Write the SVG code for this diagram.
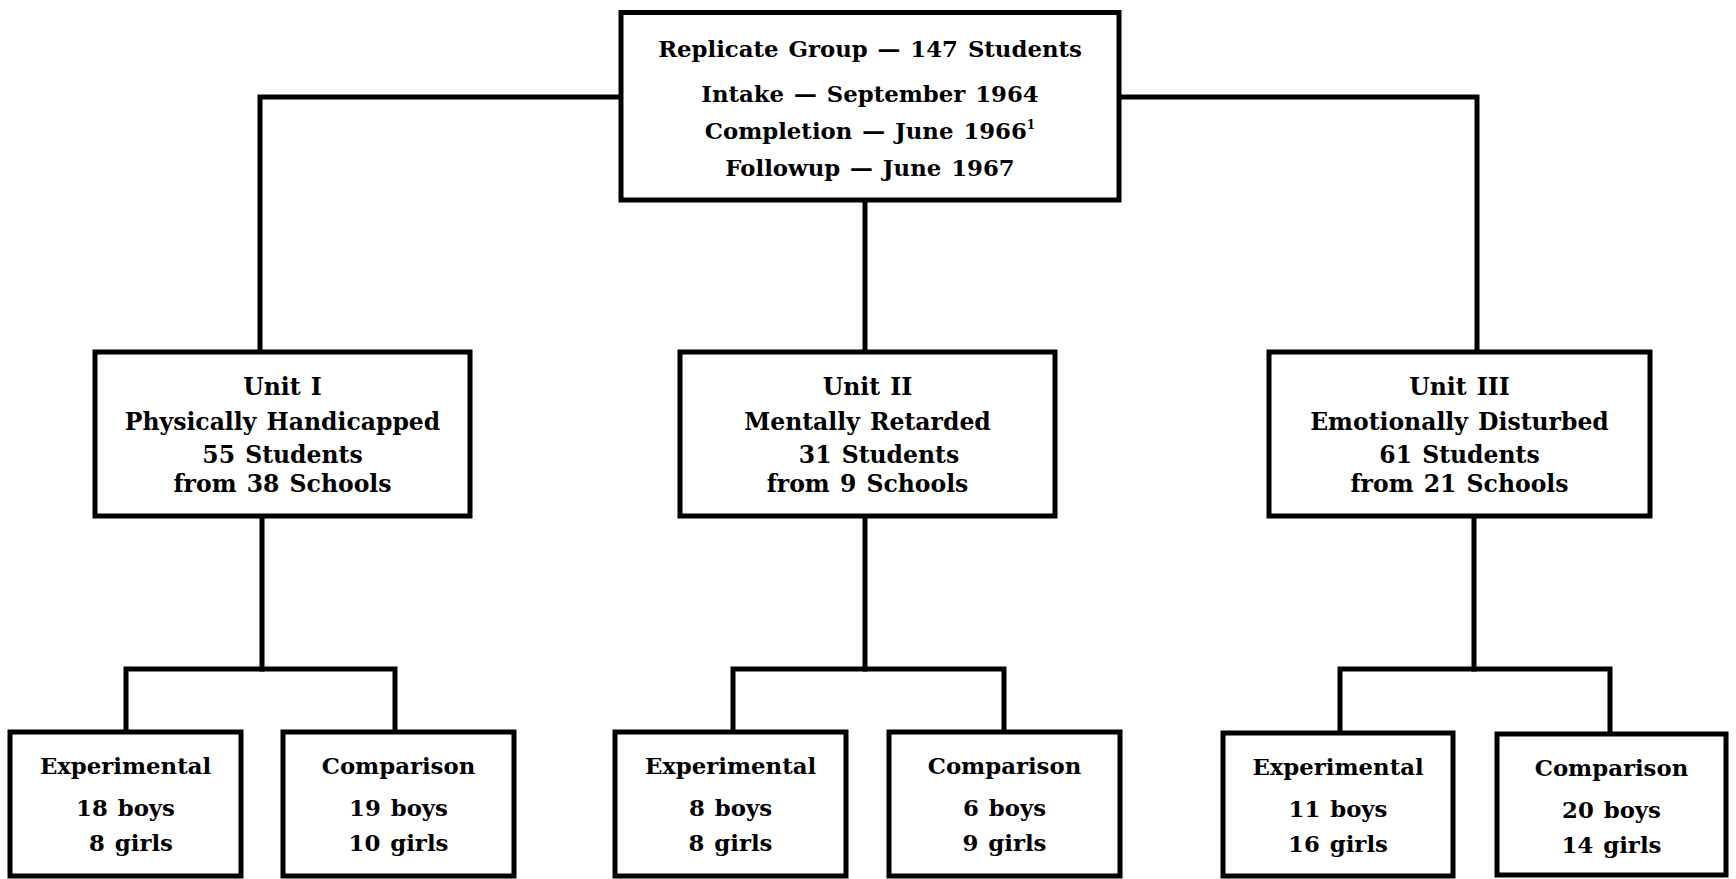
<svg xmlns="http://www.w3.org/2000/svg" width="1736" height="879" viewBox="0 0 1736 879">
<style>
.box{fill:#fff;stroke:#000;stroke-width:5}
.ln{fill:none;stroke:#000;stroke-width:5;stroke-linecap:square}
text{font-family:"DejaVu Serif","Liberation Serif",serif;font-weight:bold;fill:#000;text-anchor:middle;word-spacing:2px}
.t{font-size:23.5px}
.b{font-size:22.8px}
.tt{font-size:22.8px}
</style>
<rect width="1736" height="879" fill="#fff"/>
<g id="connectors">
<polyline class="ln" points="621,97 260,97 260,352"/>
<polyline class="ln" points="1119,97 1477,97 1477,352"/>
<line class="ln" x1="865" y1="200" x2="865" y2="352"/>
<line class="ln" x1="262" y1="516" x2="262" y2="669"/>
<polyline class="ln" points="126,732 126,669 395,669 395,732"/>
<line class="ln" x1="865" y1="516" x2="865" y2="669"/>
<polyline class="ln" points="733,732 733,669 1004,669 1004,732"/>
<line class="ln" x1="1474" y1="516" x2="1474" y2="669"/>
<polyline class="ln" points="1340,732 1340,669 1610,669 1610,732"/>
</g>
<g id="top">
<rect class="box" x="621" y="12.5" width="498" height="187.5"/>
<text class="tt" x="870" y="57">Replicate Group — 147 Students</text>
<text class="tt" x="870" y="102">Intake — September 1964</text>
<text class="tt" x="870" y="138.5">Completion — June 1966<tspan font-size="12" dy="-10">1</tspan></text>
<text class="tt" x="870" y="176">Followup — June 1967</text>
</g>
<g id="unit1">
<rect class="box" x="95" y="352" width="375" height="164"/>
<text class="t" x="282.5" y="395">Unit I</text>
<text class="t" x="282.5" y="430">Physically Handicapped</text>
<text class="t" x="282.5" y="463">55 Students</text>
<text class="t" x="282.5" y="492">from 38 Schools</text>
</g>
<g id="unit2">
<rect class="box" x="680" y="352" width="375" height="164"/>
<text class="t" x="867.5" y="395">Unit II</text>
<text class="t" x="867.5" y="430">Mentally Retarded</text>
<text class="t" x="879" y="463">31 Students</text>
<text class="t" x="867.5" y="492">from 9 Schools</text>
</g>
<g id="unit3">
<rect class="box" x="1269" y="352" width="381" height="164"/>
<text class="t" x="1459.5" y="395">Unit III</text>
<text class="t" x="1459.5" y="430">Emotionally Disturbed</text>
<text class="t" x="1459.5" y="463">61 Students</text>
<text class="t" x="1459.5" y="492">from 21 Schools</text>
</g>
<g id="exp1">
<rect class="box" x="10" y="732" width="231" height="144"/>
<text class="b" x="125.5" y="774">Experimental</text>
<text class="b" x="125.5" y="816">18 boys</text>
<text class="b" x="131" y="851">8 girls</text>
</g>
<g id="comp1">
<rect class="box" x="283" y="732" width="231" height="144"/>
<text class="b" x="398.5" y="774">Comparison</text>
<text class="b" x="398.5" y="816">19 boys</text>
<text class="b" x="398.5" y="851">10 girls</text>
</g>
<g id="exp2">
<rect class="box" x="615" y="732" width="231" height="144"/>
<text class="b" x="730.5" y="774">Experimental</text>
<text class="b" x="730.5" y="816">8 boys</text>
<text class="b" x="730.5" y="851">8 girls</text>
</g>
<g id="comp2">
<rect class="box" x="889" y="732" width="231" height="144"/>
<text class="b" x="1004.5" y="774">Comparison</text>
<text class="b" x="1004.5" y="816">6 boys</text>
<text class="b" x="1004.5" y="851">9 girls</text>
</g>
<g id="exp3">
<rect class="box" x="1223" y="733" width="230" height="143"/>
<text class="b" x="1338" y="775">Experimental</text>
<text class="b" x="1338" y="817">11 boys</text>
<text class="b" x="1338" y="852">16 girls</text>
</g>
<g id="comp3">
<rect class="box" x="1497" y="734" width="229" height="141"/>
<text class="b" x="1611.5" y="776">Comparison</text>
<text class="b" x="1611.5" y="818">20 boys</text>
<text class="b" x="1611.5" y="853">14 girls</text>
</g>
</svg>
